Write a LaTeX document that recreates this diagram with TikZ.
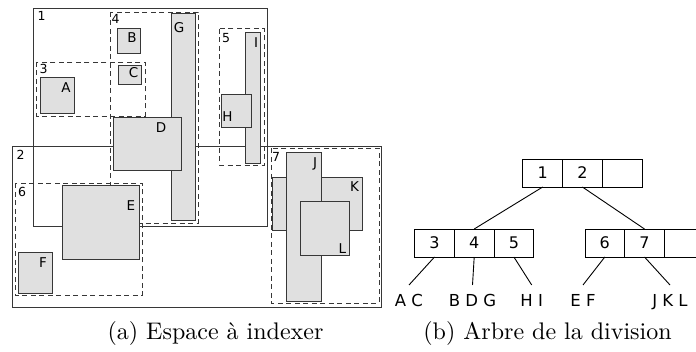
\documentclass[tikz,border=0pt]{standalone}
\usepackage{fontspec}
\setsansfont{DejaVu Sans}
\newfontfamily\capfont{lmroman10-regular.otf}
\usetikzlibrary{positioning}
\definecolor{boxgray}{RGB}{224,224,224}
\definecolor{edgegray}{RGB}{55,55,55}

\begin{document}
\begin{tikzpicture}[x=1pt, y=-1pt,
    region/.style={draw=edgegray, line width=0.9pt},
    zone/.style={draw=edgegray, line width=0.9pt, dash pattern=on 5pt off 3.5pt},
    obj/.style={draw=edgegray, line width=0.9pt, fill=boxgray},
    rlabel/.style={font=\sffamily\fontsize{12.5}{14}\selectfont, inner sep=0pt},
    olabel/.style={font=\sffamily\fontsize{13.5}{15}\selectfont, inner sep=0pt},
    cell/.style={draw, line width=0.9pt, minimum width=39.7pt, minimum height=28pt, inner sep=0pt, outer sep=0pt, font=\sffamily\fontsize{16}{18}\selectfont},
    leaf/.style={font=\sffamily\fontsize{16.5}{18}\selectfont, anchor=north, inner xsep=0pt, inner ysep=9pt},
    caption/.style={font=\capfont\fontsize{24}{28}\selectfont, anchor=base, inner sep=0pt}]
    \useasboundingbox (0,0) rectangle (696,352);
    \clip (0,0) rectangle (696,352);

    % (a) space
    \draw[region] (33.5,8) rectangle (267.3,226);
    \draw[region] (12.3,146) rectangle (381.7,307);
    \draw[zone] (36.7,62) rectangle (145,116);
    \draw[zone] (110,12) rectangle (198,223);
    \draw[zone] (219.3,28.7) rectangle (264.3,165);
    \draw[zone] (15.7,183.3) rectangle (142,295.7);
    \draw[zone] (271,148.3) rectangle (379,303);

    \draw[obj] (40.7,77.7) rectangle (74.7,113);
    \draw[obj] (117.3,28.7) rectangle (140.3,53);
    \draw[obj] (118,65.7) rectangle (141.7,84.3);
    \draw[obj] (171,13.3) rectangle (195.3,220.7);
    \draw[obj] (113.7,117.7) rectangle (181.7,170);
    \draw[obj] (245,32) rectangle (260.7,163);
    \draw[obj] (221.3,94) rectangle (251,127);
    \draw[obj] (62.3,185.3) rectangle (139.3,259.3);
    \draw[obj] (18.7,252.3) rectangle (52.7,293.3);
    \draw[obj] (272.3,177.3) rectangle (362,230);
    \draw[obj] (286.7,152) rectangle (321.3,301);
    \draw[obj] (300.7,201.3) rectangle (349,255);

    \node[rlabel] (n1) at (41.5,15.5) {1};
    \node[rlabel] (n2) at (20.5,155) {2};
    \node[rlabel] (n3) at (43.5,69) {3};
    \node[rlabel] (n4) at (115.5,18.5) {4};
    \node[rlabel] (n5) at (226,37.7) {5};
    \node[rlabel] (n6) at (22,191.7) {6};
    \node[rlabel] (n7) at (276,157) {7};

    \node[olabel] (oa) at (66,88) {A};
    \node[olabel] (ob) at (132,37.3) {B};
    \node[olabel] (oc) at (133.5,73) {C};
    \node[olabel] (od) at (161,128) {D};
    \node[olabel] (oe) at (131,206) {E};
    \node[olabel] (of) at (43,262.3) {F};
    \node[olabel] (og) at (179,27.7) {G};
    \node[olabel] (oh) at (227.5,117) {H};
    \node[olabel] (oi) at (256,43) {I};
    \node[olabel] (oj) at (315,163.5) {J};
    \node[olabel] (ok) at (354.5,187) {K};
    \node[olabel] (ol) at (342.5,249) {L};

    % (b) tree
    \node[cell] (r1) at (542.7,173) {1};
    \node[cell, right=0pt of r1] (r2) {2};
    \node[cell, right=0pt of r2] (r3) {};
    \node[cell] (a1) at (434.5,243) {3};
    \node[cell, right=0pt of a1] (a2) {4};
    \node[cell, right=0pt of a2] (a3) {5};
    \node[cell] (b1) at (604.8,243) {6};
    \node[cell, right=0pt of b1] (b2) {7};
    \node[cell, right=0pt of b2] (b3) {};

    \node[leaf] (lac) at (409,285) {A C};
    \node[leaf] (lbdg) at (472.5,285) {B D G};
    \node[leaf] (lhi) at (531.7,285) {H I};
    \node[leaf] (lef) at (583,285) {E F};
    \node[leaf] (ljkl) at (670,285) {J K L};

    \draw[line width=0.9pt] (r1.south) -- (a2.north);
    \draw[line width=0.9pt] (r2.south) -- (b2.north);
    \draw[line width=0.9pt] (a1.south) -- (lac.north);
    \draw[line width=0.9pt] (a2.south) -- (lbdg.north);
    \draw[line width=0.9pt] (a3.south) -- (lhi.north);
    \draw[line width=0.9pt] (b1.south) -- (lef.north);
    \draw[line width=0.9pt] (b2.south) -- (ljkl.north);

    \node[caption] (capa) at (215.5,340) {(a) Espace à indexer};
    \node[caption] (capb) at (547.5,340) {(b) Arbre de la division};
\end{tikzpicture}
\end{document}
